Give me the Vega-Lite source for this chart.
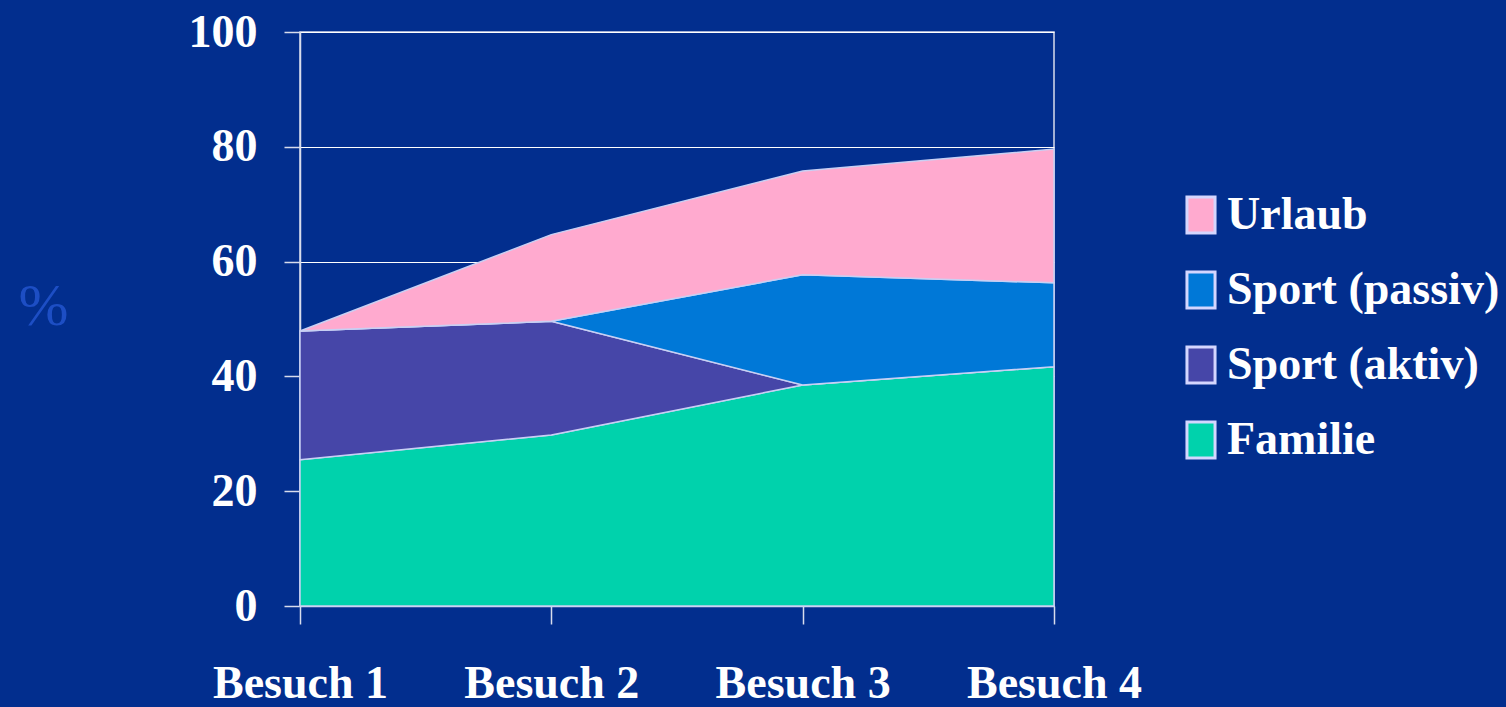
{
  "$schema": "https://vega.github.io/schema/vega-lite/v6.json",
  "width": 754,
  "height": 574,
  "autosize": "none",
  "padding": {"left": 300, "top": 32, "right": 452, "bottom": 101},
  "background": "#022e8e",
  "config": {
    "font": "Liberation Serif",
    "view": {"stroke": "#d8dcec", "strokeWidth": 1.5}
  },
  "data": {
    "values": [
      {"besuch": "Besuch 1", "kategorie": "Familie", "ord": 1, "wert": 25.5},
      {"besuch": "Besuch 2", "kategorie": "Familie", "ord": 1, "wert": 29.8},
      {"besuch": "Besuch 3", "kategorie": "Familie", "ord": 1, "wert": 38.5},
      {"besuch": "Besuch 4", "kategorie": "Familie", "ord": 1, "wert": 41.7},
      {"besuch": "Besuch 1", "kategorie": "Sport (aktiv)", "ord": 2, "wert": 22.4},
      {"besuch": "Besuch 2", "kategorie": "Sport (aktiv)", "ord": 2, "wert": 19.8},
      {"besuch": "Besuch 3", "kategorie": "Sport (aktiv)", "ord": 2, "wert": 0},
      {"besuch": "Besuch 4", "kategorie": "Sport (aktiv)", "ord": 2, "wert": 0},
      {"besuch": "Besuch 1", "kategorie": "Sport (passiv)", "ord": 3, "wert": 0},
      {"besuch": "Besuch 2", "kategorie": "Sport (passiv)", "ord": 3, "wert": 0},
      {"besuch": "Besuch 3", "kategorie": "Sport (passiv)", "ord": 3, "wert": 19.2},
      {"besuch": "Besuch 4", "kategorie": "Sport (passiv)", "ord": 3, "wert": 14.6},
      {"besuch": "Besuch 1", "kategorie": "Urlaub", "ord": 4, "wert": 0},
      {"besuch": "Besuch 2", "kategorie": "Urlaub", "ord": 4, "wert": 15.1},
      {"besuch": "Besuch 3", "kategorie": "Urlaub", "ord": 4, "wert": 18.1},
      {"besuch": "Besuch 4", "kategorie": "Urlaub", "ord": 4, "wert": 23.3}
    ]
  },
  "mark": {"type": "area", "stroke": "#c8d0f4", "strokeWidth": 1.5, "opacity": 1},
  "encoding": {
    "x": {
      "field": "besuch",
      "type": "ordinal",
      "scale": {"type": "point", "padding": 0},
      "axis": {
        "title": null,
        "labelAngle": 0,
        "labelFont": "Liberation Serif",
        "labelFontSize": 46,
        "labelFontWeight": "bold",
        "labelColor": "white",
        "labelBaseline": "alphabetic",
        "labelPadding": 73,
        "tickSize": 18,
        "tickColor": "#d8dcec",
        "tickWidth": 1.5,
        "domainColor": "#d8dcec",
        "domainWidth": 1.5,
        "grid": false
      }
    },
    "y": {
      "field": "wert",
      "type": "quantitative",
      "stack": "zero",
      "scale": {"domain": [0, 100], "nice": false},
      "axis": {
        "values": [0, 20, 40, 60, 80, 100],
        "title": "%",
        "titleAngle": 0,
        "titleFont": "Liberation Serif",
        "titleFontSize": 60,
        "titleFontWeight": "normal",
        "titleColor": "#1d4ec4",
        "titleX": -257,
        "titleY": 292,
        "titleAlign": "center",
        "titleBaseline": "alphabetic",
        "labelFont": "Liberation Serif",
        "labelFontSize": 46,
        "labelFontWeight": "bold",
        "labelColor": "white",
        "labelPadding": 27,
        "tickSize": 16,
        "tickColor": "#d8dcec",
        "tickWidth": 1.5,
        "domainColor": "#d8dcec",
        "domainWidth": 1.5,
        "grid": true,
        "gridColor": "white",
        "gridWidth": 1
      }
    },
    "color": {
      "field": "kategorie",
      "type": "nominal",
      "scale": {
        "domain": ["Urlaub", "Sport (passiv)", "Sport (aktiv)", "Familie"],
        "range": ["#ffaacf", "#0078d7", "#4646a8", "#00d2ac"]
      },
      "legend": {
        "title": null,
        "orient": "none",
        "legendX": 878,
        "legendY": 160,
        "padding": 0,
        "labelFont": "Liberation Serif",
        "labelFontSize": 46,
        "labelFontWeight": "bold",
        "labelColor": "white",
        "labelLimit": 400,
        "labelOffset": 3,
        "rowPadding": 27,
        "symbolType": "M-0.78,-1H0.78V1H-0.78Z",
        "symbolSize": 1296,
        "symbolStrokeColor": "#d4d6ff",
        "symbolStrokeWidth": 3,
        "symbolOpacity": 1
      }
    },
    "order": {"field": "ord", "type": "quantitative"}
  }
}
